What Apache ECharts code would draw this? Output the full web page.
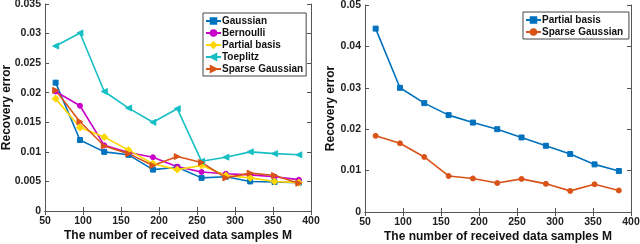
<!DOCTYPE html>
<html><head><meta charset="utf-8">
<script src="https://cdn.jsdelivr.net/npm/echarts@6/dist/echarts.min.js"></script>
<style>html,body{margin:0;padding:0;background:#fff}#c{width:640px;height:244px}</style>
</head><body><div id="c"></div>
<script>
const M = [64, 96, 128, 160, 192, 224, 256, 288, 320, 352, 384];
// Left panel
const gaussian = [0.0217, 0.0120, 0.0100, 0.0095, 0.0070, 0.0074, 0.0056, 0.0058, 0.0050, 0.0049, 0.0048];
const bernoulli = [0.0202, 0.0178, 0.0111, 0.0099, 0.0091, 0.0075, 0.0066, 0.0063, 0.0061, 0.0058, 0.0053];
const partialL = [0.0190, 0.0141, 0.0125, 0.0103, 0.0080, 0.0070, 0.0077, 0.0060, 0.0056, 0.0050, 0.0048];
const toeplitz = [0.0279, 0.0301, 0.0202, 0.0174, 0.0150, 0.0173, 0.0084, 0.0091, 0.0100, 0.0097, 0.0095];
const sparseL = [0.0204, 0.0151, 0.0110, 0.0097, 0.0077, 0.0092, 0.0082, 0.0056, 0.0064, 0.0060, 0.0047];
// Right panel
const partialR = [0.0443, 0.0300, 0.0263, 0.0234, 0.0216, 0.0200, 0.0180, 0.0160, 0.0140, 0.0115, 0.0099];
const sparseR = [0.0184, 0.0166, 0.0133, 0.0087, 0.0081, 0.0070, 0.0080, 0.0068, 0.0051, 0.0067, 0.0052];
const xTicks = [50, 100, 150, 200, 250, 300, 350, 400];
const xLabel = 'The number of received data samples M';
const yLabel = 'Recovery error';

const C = {blue:'#0072BD', mag:'#C800C8', yel:'#FFD700', cyan:'#17BFC4', org:'#D95319'};
const FONT = 'Liberation Sans';
const axisCol = '#555';
const pair = arr => arr.map((v,i)=>[M[i], v]);
const fmt = v => String(+(+v).toFixed(3));

function xAxes(gi){
  return [
    {type:'value', gridIndex:gi, min:xTicks[0], max:xTicks[xTicks.length-1], interval:50,
     name:xLabel, nameLocation:'middle', nameGap:19, nameMoveOverlap:false,
     nameTextStyle:{fontFamily:FONT, fontWeight:'bold', fontSize:12, color:'#111'},
     axisLine:{lineStyle:{color:axisCol, width:1}}, axisTick:{inside:true, length:4, lineStyle:{color:axisCol}},
     axisLabel:{fontFamily:FONT, fontWeight:'bold', fontSize:10.5, color:'#222', margin:5},
     splitLine:{show:false}},
    {type:'value', gridIndex:gi, position:'top', min:xTicks[0], max:xTicks[xTicks.length-1], interval:50,
     axisLine:{lineStyle:{color:axisCol, width:1}}, axisTick:{inside:true, length:4, lineStyle:{color:axisCol}},
     axisLabel:{show:false}, splitLine:{show:false}}
  ];
}
function yAxes(gi, max, interval, gap){
  return [
    {type:'value', gridIndex:gi, min:0, max:max, interval:interval,
     name:yLabel, nameLocation:'middle', nameGap:gap, nameRotate:90, nameMoveOverlap:false,
     nameTextStyle:{fontFamily:FONT, fontWeight:'bold', fontSize:12, color:'#111'},
     axisLine:{show:true, lineStyle:{color:axisCol, width:1}}, axisTick:{show:true, inside:true, length:4, lineStyle:{color:axisCol}},
     axisLabel:{fontFamily:FONT, fontWeight:'bold', fontSize:10.5, color:'#222', margin:4, formatter:fmt},
     splitLine:{show:false}},
    {type:'value', gridIndex:gi, position:'right', min:0, max:max, interval:interval,
     axisLine:{show:true, lineStyle:{color:axisCol, width:1}}, axisTick:{show:true, inside:true, length:4, lineStyle:{color:axisCol}},
     axisLabel:{show:false}, splitLine:{show:false}}
  ];
}
function ser(name, data, color, symbol, rot, xi, yi, size){
  return {name:name, type:'line', data:pair(data), xAxisIndex:xi, yAxisIndex:yi,
    symbol:symbol, symbolRotate:rot||0, symbolSize:size||5, showSymbol:true,
    lineStyle:{color:color, width:1.6}, itemStyle:{color:color, borderColor:color, borderWidth:1},
    emphasis:{disabled:true}, animation:false, z:3};
}
const legendBase = {orient:'vertical', backgroundColor:'#fff', borderColor:'#444', borderWidth:1,
  padding:[3,3,2,2], itemGap:2, itemWidth:15, itemHeight:7,
  textStyle:{fontFamily:FONT, fontWeight:'bold', fontSize:10, color:'#111', padding:[0,0,0,-4]}};

const chart = echarts.init(document.getElementById('c'), null, {renderer:'canvas'});
chart.setOption({
  animation:false,
  grid:[
    {left:45, right:329, top:4, bottom:33, outerBoundsMode:'none', containLabel:false},
    {left:365, right:9, top:5, bottom:32, outerBoundsMode:'none', containLabel:false}
  ],
  xAxis:[...xAxes(0), ...xAxes(1)],
  yAxis:[...yAxes(0, 0.035, 0.005, 32), ...yAxes(1, 0.05, 0.01, 28)],
  legend:[
    Object.assign({}, legendBase, {left:203, top:13,
      data:['Gaussian','Bernoulli','Partial basis','Toeplitz','Sparse Gaussian']}),
    Object.assign({}, legendBase, {left:523, top:12,
      data:['Partial basis ','Sparse Gaussian ']})
  ],
  series:[
    ser('Gaussian', gaussian, C.blue, 'rect', 0, 0, 0, 5),
    ser('Bernoulli', bernoulli, C.mag, 'circle', 0, 0, 0, 5),
    ser('Partial basis', partialL, C.yel, 'diamond', 0, 0, 0, 7),
    ser('Toeplitz', toeplitz, C.cyan, 'triangle', 90, 0, 0, 6),
    ser('Sparse Gaussian', sparseL, C.org, 'triangle', -90, 0, 0, 6),
    ser('Partial basis ', partialR, C.blue, 'rect', 0, 2, 2, 5),
    ser('Sparse Gaussian ', sparseR, C.org, 'circle', 0, 2, 2, 5)
  ]
});
</script></body></html>
